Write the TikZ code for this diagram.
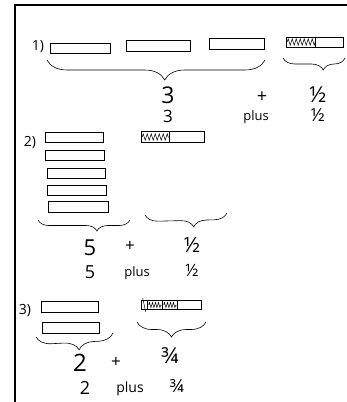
\documentclass[tikz,border=0pt]{standalone}
\usepackage{fontspec}
\setmainfont{Open Sans}
\usetikzlibrary{decorations.pathreplacing,decorations.pathmorphing}
\tikzset{
  bar/.style={draw, line width=0.6pt, minimum height=10pt, inner sep=0pt},
  hbrace/.style={draw, line width=0.6pt, decorate, decoration={brace, mirror, amplitude=#1}},
  zz/.style={draw, line width=0.5pt, decorate, decoration={zigzag, segment length=4pt, amplitude=3.2pt}},
  lbl/.style={inner sep=0pt, font=\fontsize{#1}{#1}\selectfont},
}
\begin{document}
\begin{tikzpicture}[x=1pt,y=-1pt]
\useasboundingbox (0,0) rectangle (347,402);
% frame
\draw[line width=1.6pt] (347,5) -- (15,5) -- (15,402);

% ---------- section 1 ----------
\node[lbl=14] (n1) at (38,47) {1)};
\node[bar, minimum width=60pt] (b11) at (80,48) {};
\node[bar, minimum width=64pt, minimum height=11pt] (b12) at (158,46) {};
\node[bar, minimum width=55pt, minimum height=11pt] (b13) at (237,44) {};
\node[bar, minimum width=57pt] (h1) at (315,42) {};
\draw[zz] ([xshift=1pt]h1.west) -- ([xshift=29pt]h1.west);
\draw[line width=0.6pt] ([xshift=29pt]h1.north west) -- ([xshift=29pt]h1.south west);
\coordinate (c1a) at (47,60);
\coordinate (c1b) at (265,60);
\draw[hbrace=20pt, decoration={aspect=0.54}] (c1a) -- (c1b);
\coordinate (c1c) at (283,58);
\coordinate (c1d) at (345,58);
\draw[hbrace=12pt, decoration={aspect=0.65}] (c1c) -- (c1d);
\node[lbl=23] (t1a) at (168,95) {3};
\node[lbl=17] (t1b) at (168,116) {3};
\node[lbl=18] (t1c) at (262,97) {+};
\node[lbl=13] (t1d) at (256,117) {plus};
\node[lbl=22] (t1e) at (318,95) {½};
\node[lbl=18] (t1f) at (318,115) {½};

% ---------- section 2 ----------
\node[lbl=14] (n2) at (30,143) {2)};
\node[bar, minimum width=58pt] (b21) at (74,137) {};
\node[bar, minimum width=59pt] (b22) at (75,155) {};
\node[bar, minimum width=58pt] (b23) at (76,173) {};
\node[bar, minimum width=59pt] (b24) at (76.5,190) {};
\node[bar, minimum width=60pt, minimum height=11pt] (b25) at (78,207) {};
\node[bar, minimum width=63pt, minimum height=11pt] (h2) at (173,137) {};
\draw[zz] ([xshift=1pt]h2.west) -- ([xshift=28pt]h2.west);
\draw[line width=0.6pt] ([xshift=28pt]h2.north west) -- ([xshift=28pt]h2.south west);
\coordinate (c2a) at (38,220);
\coordinate (c2b) at (130,220);
\draw[hbrace=11pt, decoration={aspect=0.64}] (c2a) -- (c2b);
\coordinate (c2c) at (145,215);
\coordinate (c2d) at (227,213);
\draw[hbrace=13pt, decoration={aspect=0.59}] (c2c) -- (c2d);
\node[lbl=22] (t2a) at (90,248) {5};
\node[lbl=17] (t2b) at (130,246) {+};
\node[lbl=21] (t2c) at (192,245) {½};
\node[lbl=18] (t2d) at (90,272) {5};
\node[lbl=13] (t2e) at (137,273) {plus};
\node[lbl=17] (t2f) at (192,270) {½};

% ---------- section 3 ----------
\node[lbl=14] (n3) at (25,311) {3)};
\node[bar, minimum width=57pt, minimum height=11pt] (b31) at (70,307) {};
\node[bar, minimum width=57pt, minimum height=11pt] (b32) at (71,328) {};
\node[bar, minimum width=60pt, minimum height=9pt] (h3) at (171,305) {};
\foreach \d in {7,22,37} {
  \draw[line width=0.5pt] ([xshift=\d pt]h3.north west) -- ([xshift=\d pt]h3.south west);
}
\draw[zz, decoration={segment length=3pt, amplitude=2.6pt}] ([xshift=8pt]h3.west) -- ([xshift=21pt]h3.west);
\draw[zz, decoration={segment length=3pt, amplitude=2.6pt}] ([xshift=23pt]h3.west) -- ([xshift=36pt]h3.west);
\draw[line width=0.5pt] ([xshift=2pt,yshift=2pt]h3.north west) -- ([xshift=5pt,yshift=-2pt]h3.south west);
\coordinate (c3a) at (36,337);
\coordinate (c3b) at (113,333);
\draw[hbrace=15pt, decoration={aspect=0.55}] (c3a) -- (c3b);
\coordinate (c3c) at (137,322);
\coordinate (c3d) at (206,322);
\draw[hbrace=15pt, decoration={aspect=0.5}] (c3c) -- (c3d);
\node[lbl=22] (t3a) at (170,356) {¾};
\node[lbl=24] (t3b) at (80,363) {2};
\node[lbl=17] (t3c) at (116,362) {+};
\node[lbl=18] (t3d) at (85,388) {2};
\node[lbl=14] (t3e) at (130,389) {plus};
\node[lbl=18] (t3f) at (177,386) {¾};
\end{tikzpicture}
\end{document}
